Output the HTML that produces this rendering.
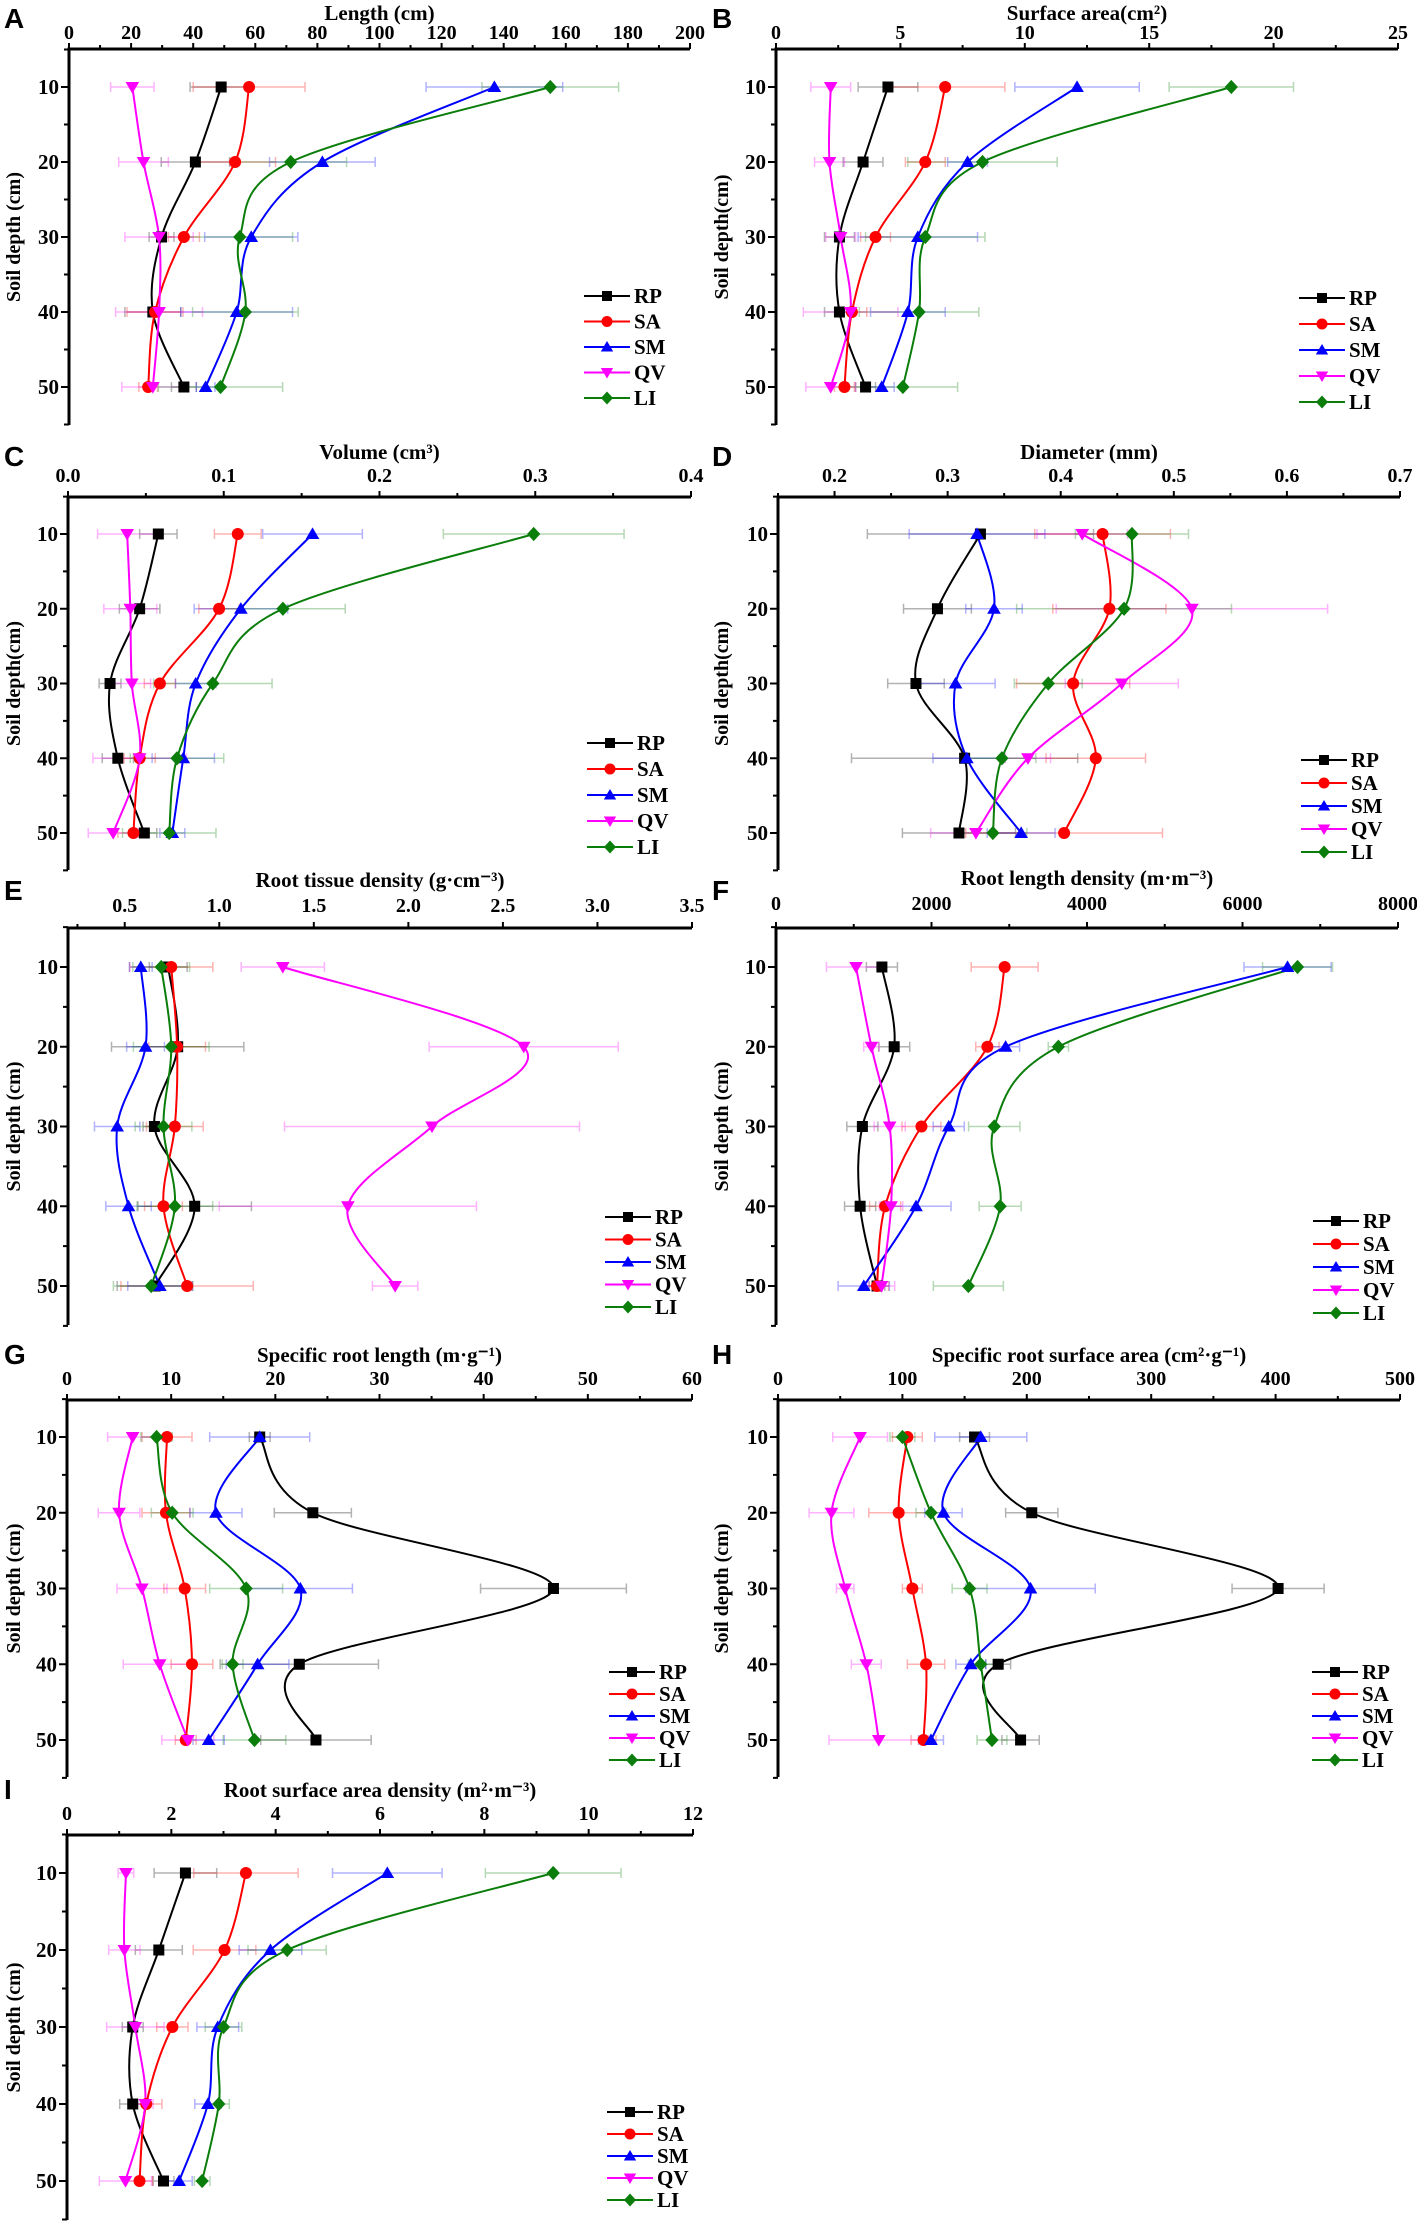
<!DOCTYPE html>
<html><head><meta charset="utf-8">
<style>
html,body{margin:0;padding:0;background:#fff;}
svg{display:block;}
text{font-family:"Liberation Serif",serif;font-weight:bold;fill:#000;}
.letter{font-family:"Liberation Sans",sans-serif;font-size:28px;}
</style></head>
<body>
<svg id="fig" width="1417" height="2223" viewBox="0 0 1417 2223" xmlns="http://www.w3.org/2000/svg"></svg>
<script>
const depths = [10, 20, 30, 40, 50];
const seriesNames = ['RP', 'SA', 'SM', 'QV', 'LI'];
const seriesColors = ['#000000', '#ff0000', '#0000ff', '#ff00ff', '#0a7d0a'];
const markerShapes = ['square', 'circle', 'triUp', 'triDown', 'diamond'];

// A: Length (cm)
const lengthValues = [[49,40.7,29.8,27,37],[58,53.5,37,27.7,25.5],[137,81.6,58.7,54,44],[20.4,24,29,29,27],[155,71.4,55,56.8,48.8]];
const lengthErrors = [[10,11,4,9,4],[18,13,5,9,3],[22,17,15,18,3],[7,8,11,14,10],[22,18,17,17,20]];
// B: Surface area
const surfaceValues = [[4.5,3.5,2.55,2.55,3.6],[6.8,6.0,4.0,3.05,2.75],[12.1,7.7,5.7,5.3,4.25],[2.2,2.15,2.6,3.0,2.2],[18.3,8.3,6.0,5.75,5.1]];
const surfaceErrors = [[1.2,0.8,0.6,0.6,0.4],[2.4,0.8,0.6,0.6,0.4],[2.5,0.8,2.4,1.5,0.5],[0.8,0.6,0.6,1.9,1.0],[2.5,3.0,2.4,2.4,2.2]];
// C: Volume
const volumeValues = [[0.058,0.046,0.027,0.032,0.049],[0.109,0.097,0.059,0.046,0.042],[0.157,0.111,0.082,0.074,0.067],[0.038,0.040,0.041,0.046,0.029],[0.299,0.138,0.093,0.070,0.065]];
const volumeErrors = [[0.012,0.013,0.007,0.01,0.008],[0.015,0.013,0.01,0.01,0.01],[0.032,0.03,0.013,0.02,0.008],[0.019,0.017,0.012,0.03,0.016],[0.058,0.04,0.038,0.03,0.03]];
// D: Diameter
const diameterValues = [[0.329,0.291,0.272,0.315,0.31],[0.437,0.443,0.411,0.431,0.403],[0.326,0.341,0.307,0.317,0.365],[0.419,0.516,0.454,0.371,0.325],[0.463,0.456,0.389,0.348,0.34]];
const diameterErrors = [[0.1,0.03,0.025,0.1,0.05],[0.06,0.05,0.05,0.044,0.087],[0.06,0.025,0.035,0.03,0.03],[0.04,0.12,0.05,0.02,0.04],[0.05,0.095,0.03,0.03,0.03]];
// E: Root tissue density
const tissueValues = [[0.73,0.78,0.657,0.87,0.66],[0.746,0.777,0.765,0.705,0.83],[0.585,0.61,0.46,0.52,0.686],[1.336,2.61,2.125,1.68,1.93],[0.693,0.746,0.705,0.765,0.64]];
const tissueErrors = [[0.1,0.35,0.06,0.3,0.2],[0.22,0.15,0.15,0.1,0.35],[0.06,0.1,0.12,0.12,0.17],[0.22,0.5,0.78,0.68,0.12],[0.15,0.2,0.15,0.2,0.2]];
// F: Root length density
const rldValues = [[1362,1520,1111,1082,1300],[2941,2719,1871,1404,1298],[6579,2953,2222,1801,1129],[1029,1228,1462,1480,1357],[6708,3632,2807,2883,2474]];
const rldErrors = [[200,200,200,200,100],[430,150,250,200,150],[560,180,200,450,330],[380,100,200,150,170],[450,130,330,270,450]];
// G: Specific root length
const srlValues = [[18.5,23.6,46.7,22.3,23.9],[9.6,9.5,11.3,12.0,11.4],[18.5,14.3,22.4,18.3,13.6],[6.3,5.0,7.2,8.9,11.6],[8.6,10.1,17.2,15.9,18.0]];
const srlErrors = [[1,3.7,7,7.6,5.3],[2.4,2.3,2,2,1],[4.8,2.5,5,3,1.5],[2.4,2,2.4,3.5,2.5],[1.5,2,3.5,1,3]];
// H: Specific root surface area
const srsaValues = [[158,204,402,177,195],[104,97,108,119,117],[163,133,203,155,123],[66,43,54,71,81],[100,123,154,163,172]];
const srsaErrors = [[12,21,37,10,15],[12,24,8,15,10],[37,15,52,12,10],[22,18,7,12,40],[10,12,14,10,12]];
// I: Root surface area density
const rsadValues = [[2.27,1.76,1.26,1.26,1.85],[3.43,3.02,2.02,1.52,1.39],[6.14,3.9,2.89,2.7,2.15],[1.13,1.1,1.31,1.5,1.12],[9.32,4.22,3.0,2.91,2.59]];
const rsadErrors = [[0.6,0.45,0.2,0.25,0.2],[1,0.6,0.3,0.3,0.25],[1.05,0.6,0.4,0.25,0.25],[0.15,0.3,0.55,0.15,0.5],[1.3,0.75,0.35,0.2,0.15]];

const NS = 'http://www.w3.org/2000/svg';
const svg = document.getElementById('fig');
function mk(tag, attrs, parent) {
  const e = document.createElementNS(NS, tag);
  for (const k in attrs) e.setAttribute(k, attrs[k]);
  (parent || svg).appendChild(e);
  return e;
}

const panels = [
  {id:'a', letter:'A', lx:4, ly:28, title:'Length (cm)', x0:69, x1:690, ytop:49, y10:87, y50:387, ybot:425, dmin:0, dmax:200, tmin:0, tstep:20, dec:0, minor:true, vals:lengthValues, errs:lengthErrors, legX:584, legY:296, legS:25.5, ylab:'Soil  depth (cm)', ylx:13, tY:20, kY:39},
  {id:'b', letter:'B', lx:712, ly:28, title:'Surface area(cm\u00B2)', x0:776, x1:1398, ytop:49, y10:87, y50:387, ybot:425, dmin:0, dmax:25, tmin:0, tstep:5, dec:0, minor:true, vals:surfaceValues, errs:surfaceErrors, legX:1299, legY:298, legS:26, ylab:'Soil depth(cm)', ylx:721, tY:20, kY:39},
  {id:'c', letter:'C', lx:4, ly:466, title:'Volume (cm\u00B3)', x0:68, x1:691, ytop:497, y10:534, y50:833, ybot:870, dmin:0, dmax:0.4, tmin:0, tstep:0.1, dec:1, minor:true, vals:volumeValues, errs:volumeErrors, legX:587, legY:743, legS:26, ylab:'Soil depth(cm)', ylx:13},
  {id:'d', letter:'D', lx:712, ly:466, title:'Diameter (mm)', x0:778, x1:1400, ytop:497, y10:534, y50:833, ybot:870, dmin:0.15, dmax:0.7, tmin:0.2, tstep:0.1, dec:1, minor:true, vals:diameterValues, errs:diameterErrors, legX:1301, legY:760, legS:23, ylab:'Soil depth(cm)', ylx:721},
  {id:'e', letter:'E', lx:4, ly:900, title:'Root tissue density  (g\u00B7cm\u207B\u00B3)', x0:68, x1:692, ytop:928, y10:967, y50:1286, ybot:1325, dmin:0.2, dmax:3.5, tmin:0.5, tstep:0.5, dec:1, minor:false, vals:tissueValues, errs:tissueErrors, legX:605, legY:1217, legS:22.5, ylab:'Soil depth (cm)', ylx:13, tY:887, kY:912},
  {id:'f', letter:'F', lx:712, ly:900, title:'Root length density (m\u00B7m\u207B\u00B3)', x0:776, x1:1398, ytop:928, y10:967, y50:1286, ybot:1325, dmin:0, dmax:8000, tmin:0, tstep:2000, dec:0, minor:true, vals:rldValues, errs:rldErrors, legX:1313, legY:1221, legS:23, ylab:'Soil depth (cm)', ylx:721, tY:885, kY:910},
  {id:'g', letter:'G', lx:4, ly:1364, title:'Specific root length (m\u00B7g\u207B\u00B9)', x0:67, x1:692, ytop:1400, y10:1437, y50:1740, ybot:1777, dmin:0, dmax:60, tmin:0, tstep:10, dec:0, minor:true, vals:srlValues, errs:srlErrors, legX:609, legY:1672, legS:22, ylab:'Soil depth (cm)', ylx:13},
  {id:'h', letter:'H', lx:712, ly:1364, title:'Specific root surface area (cm\u00B2\u00B7g\u207B\u00B9)', x0:778, x1:1400, ytop:1400, y10:1437, y50:1740, ybot:1777, dmin:0, dmax:500, tmin:0, tstep:100, dec:0, minor:true, vals:srsaValues, errs:srsaErrors, legX:1312, legY:1672, legS:22, ylab:'Soil depth (cm)', ylx:721},
  {id:'i', letter:'I', lx:4, ly:1799, title:'Root surface area density (m\u00B2\u00B7m\u207B\u00B3)', x0:67, x1:693, ytop:1835, y10:1873, y50:2181, ybot:2220, dmin:0, dmax:12, tmin:0, tstep:2, dec:0, minor:true, vals:rsadValues, errs:rsadErrors, legX:607, legY:2112, legS:22, ylab:'Soil depth (cm)', ylx:13}
];

function marker(g, shape, cx, cy, color, s) {
  let el;
  if (shape === 'square') el = mk('rect', {x:cx-s/2, y:cy-s/2, width:s, height:s, fill:color}, g);
  else if (shape === 'circle') el = mk('circle', {cx:cx, cy:cy, r:s/2+0.5, fill:color}, g);
  else if (shape === 'triUp') el = mk('polygon', {points:`${cx},${cy-s*0.6} ${cx-s*0.62},${cy+s*0.45} ${cx+s*0.62},${cy+s*0.45}`, fill:color}, g);
  else if (shape === 'triDown') el = mk('polygon', {points:`${cx},${cy+s*0.6} ${cx-s*0.62},${cy-s*0.45} ${cx+s*0.62},${cy-s*0.45}`, fill:color}, g);
  else el = mk('polygon', {points:`${cx},${cy-s*0.65} ${cx+s*0.6},${cy} ${cx},${cy+s*0.65} ${cx-s*0.6},${cy}`, fill:color}, g);
  return el;
}

function splinePath(pts) {
  let d = `M${pts[0][0]},${pts[0][1]}`;
  for (let i = 0; i < pts.length - 1; i++) {
    const p0 = pts[i-1] || pts[i], p1 = pts[i], p2 = pts[i+1], p3 = pts[i+2] || pts[i+1];
    const c1x = p1[0] + (p2[0]-p0[0])/6, c1y = p1[1] + (p2[1]-p0[1])/6;
    const c2x = p2[0] - (p3[0]-p1[0])/6, c2y = p2[1] - (p3[1]-p1[1])/6;
    d += ` C${c1x},${c1y} ${c2x},${c2y} ${p2[0]},${p2[1]}`;
  }
  return d;
}

panels.forEach(p => {
  const g = mk('g', {});
  
  
  const xs = v => p.x0 + (v - p.dmin) / (p.dmax - p.dmin) * (p.x1 - p.x0);
  const ys = d => p.y10 + (d - 10) / 40 * (p.y50 - p.y10);
  const titleY = p.tY || (p.ytop - 38);
  const tickY = p.kY || (p.ytop - 15);

  const letter = mk('text', {x:p.lx, y:p.ly, class:'letter'}, g);
  letter.textContent = p.letter;
  
  

  const title = mk('text', {x:(p.x0+p.x1)/2, y:titleY, 'text-anchor':'middle', 'font-size':21}, g);
  title.textContent = p.title;
  
  

  const yl = mk('text', {x:0, y:0, 'text-anchor':'middle', 'font-size':20, transform:`translate(${p.ylx+7},${(p.ytop+p.ybot)/2}) rotate(-90)`}, g);
  yl.textContent = p.ylab;
  
  

  const ax = mk('path', {d:`M${p.x0},${p.ybot} L${p.x0},${p.ytop} L${p.x1},${p.ytop}`, fill:'none', stroke:'#000', 'stroke-width':3}, g);
  
  

  for (let v = p.tmin; v <= p.dmax + 1e-9; v += p.tstep) {
    const x = xs(v);
    mk('line', {x1:x, y1:p.ytop, x2:x, y2:p.ytop-6, stroke:'#000', 'stroke-width':2}, g);
    const t = mk('text', {x:x, y:tickY, 'text-anchor':'middle', 'font-size':20}, g);
    t.textContent = v.toFixed(p.dec);
    
    
    if (p.minor && v + p.tstep/2 < p.dmax) {
      const mx = xs(v + p.tstep/2);
      mk('line', {x1:mx, y1:p.ytop, x2:mx, y2:p.ytop-4, stroke:'#000', 'stroke-width':2}, g);
    }
  }
  if (p.dmin < p.tmin) {
    const mx = xs(p.tmin - p.tstep/2);
    if (mx >= p.x0) mk('line', {x1:mx, y1:p.ytop, x2:mx, y2:p.ytop-4, stroke:'#000', 'stroke-width':2}, g);
  }
  depths.forEach(d => {
    const y = ys(d);
    mk('line', {x1:p.x0, y1:y, x2:p.x0-8, y2:y, stroke:'#000', 'stroke-width':2}, g);
    mk('line', {x1:p.x0, y1:ys(d+5), x2:p.x0-5, y2:ys(d+5), stroke:'#000', 'stroke-width':2}, g);
    const t = mk('text', {x:p.x0-10, y:y+7, 'text-anchor':'end', 'font-size':21}, g);
    t.textContent = d;
    
    
  });
  mk('line', {x1:p.x0, y1:ys(5), x2:p.x0-5, y2:ys(5), stroke:'#000', 'stroke-width':2}, g);

  seriesNames.forEach((s, si) => {
    depths.forEach((d, di) => {
      const v = p.vals[si][di], e = p.errs[si][di], y = ys(d);
      const eb = mk('path', {d:`M${xs(v-e)},${y} L${xs(v+e)},${y} M${xs(v-e)},${y-5} L${xs(v-e)},${y+5} M${xs(v+e)},${y-5} L${xs(v+e)},${y+5}`, stroke:seriesColors[si], 'stroke-width':1.5, 'stroke-opacity':0.3, fill:'none'}, g);
      
      
    });
  });
  seriesNames.forEach((s, si) => {
    const pts = depths.map((d, di) => [xs(p.vals[si][di]), ys(d)]);
    const ln = mk('path', {d:splinePath(pts), stroke:seriesColors[si], 'stroke-width':2, fill:'none'}, g);
    
    
  });
  seriesNames.forEach((s, si) => {
    depths.forEach((d, di) => {
      const m = marker(g, markerShapes[si], xs(p.vals[si][di]), ys(d), seriesColors[si], 11);
      
      
    });
  });
  seriesNames.forEach((s, si) => {
    const y = p.legY + si * p.legS;
    const lg = mk('g', {}, g);
    
    
    mk('line', {x1:p.legX, y1:y, x2:p.legX+46, y2:y, stroke:seriesColors[si], 'stroke-width':2}, lg);
    marker(lg, markerShapes[si], p.legX+23, y, seriesColors[si], 10);
    const t = mk('text', {x:p.legX+50, y:y+7, 'font-size':21}, lg);
    t.textContent = s;
  });
});
</script>
</body></html>
